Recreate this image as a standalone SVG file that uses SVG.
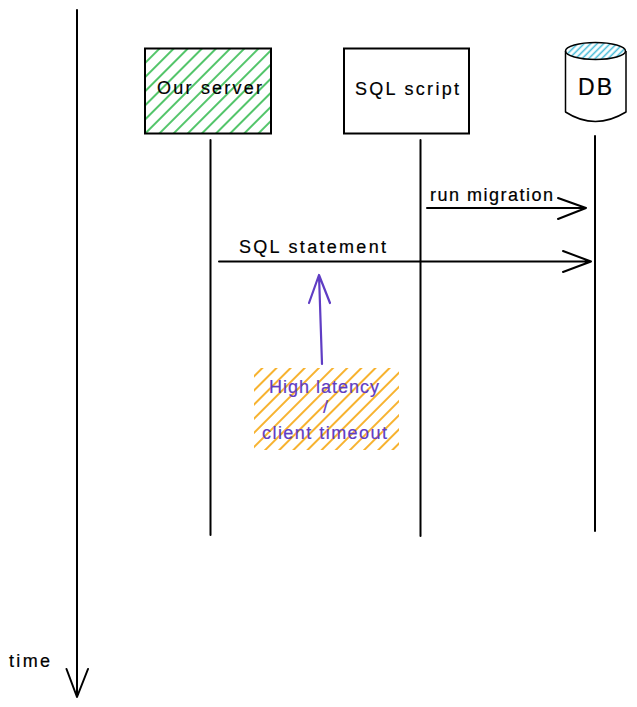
<svg xmlns="http://www.w3.org/2000/svg" width="637" height="707" viewBox="0 0 637 707">
<style>
.l{fill:none;stroke:#000;stroke-width:2;stroke-linecap:round;stroke-linejoin:round}
.p{fill:none;stroke:#5f3dc4;stroke-width:2.200;stroke-linecap:round;stroke-linejoin:round}
text{font-family:"Liberation Sans","DejaVu Sans",sans-serif;font-size:18px;fill:#000;stroke:#000;stroke-width:.2}
.v{fill:#5f3dc4;stroke:#5f3dc4}
.big{font-size:23px}
</style>
<defs>
<pattern id="green" patternUnits="userSpaceOnUse" width="10" height="10" patternTransform="translate(3 0) rotate(45)"><line x1="5" y1="0" x2="5" y2="10" stroke="#35bb50" stroke-width="1.700"/></pattern>
<pattern id="orange" patternUnits="userSpaceOnUse" width="10" height="10" patternTransform="translate(1 0) rotate(45)"><line x1="5" y1="0" x2="5" y2="10" stroke="#f6a50a" stroke-width="1.700"/></pattern>
<pattern id="blue" patternUnits="userSpaceOnUse" width="4.600" height="4.600" patternTransform="rotate(45)"><line x1="2.300" y1="0" x2="2.300" y2="4.600" stroke="#3db8d6" stroke-width="1.500"/></pattern>
</defs>
<g id="connectors">
<path class="l" d="M77 10V697M66.500 669L77 697L88 669"/>
<path class="l" d="M210.500 140V535"/>
<path class="l" d="M420.500 140V536"/>
<path class="l" d="M595 136V531"/>
<path class="l" d="M427 208H586M558 198L586 208L558 219"/>
<path class="l" d="M219 261.500H591M563 251L591 261.500L563 272"/>
<path class="p" d="M322 364L319 275M309 303L319 275L330 303"/>
</g>
<g id="our-server">
<rect x="145" y="48.500" width="126" height="85" fill="url(#green)" stroke="#000" stroke-width="2"/>
<text x="157" y="94" textLength="105" lengthAdjust="spacing">Our server</text>
</g>
<g id="sql-script">
<rect x="344" y="48.500" width="125" height="85" fill="#fff" stroke="#000" stroke-width="2"/>
<text x="355" y="95" textLength="104" lengthAdjust="spacing">SQL script</text>
</g>
<g id="db">
<path d="M565.500 51V112Q595 131 626 112V51" fill="#fff" stroke="#000" stroke-width="1.500" stroke-linejoin="round"/>
<ellipse cx="595.500" cy="51" rx="30" ry="8.500" fill="url(#blue)" stroke="#000" stroke-width="1.500"/>
<text class="big" x="578" y="95" textLength="34" lengthAdjust="spacing">DB</text>
</g>
<g id="note">
<rect x="254" y="368" width="145" height="82" fill="url(#orange)"/>
<text class="v" x="269" y="393" textLength="110" lengthAdjust="spacing">High latency</text>
<text class="v" x="323" y="413">/</text>
<text class="v" x="262" y="439" textLength="125" lengthAdjust="spacing">client timeout</text>
</g>
<g id="labels">
<text x="430" y="201" textLength="123" lengthAdjust="spacing">run migration</text>
<text x="239" y="253" textLength="147" lengthAdjust="spacing">SQL statement</text>
<text x="9" y="667" textLength="41" lengthAdjust="spacing">time</text>
</g>
</svg>
